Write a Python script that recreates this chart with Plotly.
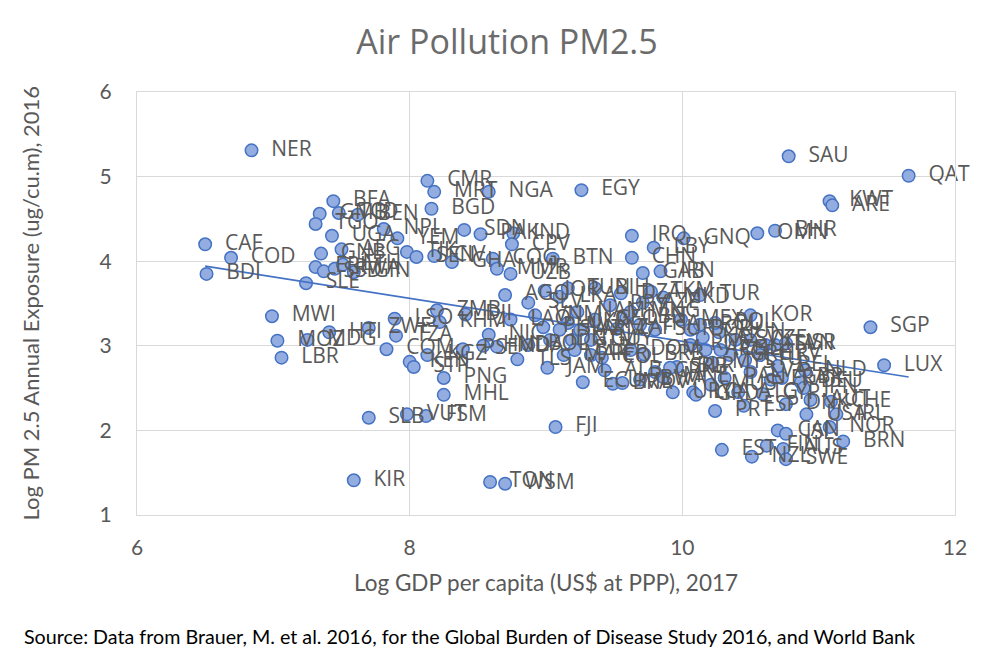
import numpy as np
import plotly.graph_objects as go

codes = ["NER","CAF","COD","BDI","SLE","MWI","MOZ","LBR","MDG","HTI","ZWE","COM","LSO","TZA","KEN","STP","KGZ","ZMB","KHM","DJI",
         "PSE","PNG","MHL","SLB","VUT","FSM","KIR","TON","WSM","FJI","BFA","GMB","TGO","TCD","BEN","UGA","NPL","YEM","TJK","SEN",
         "CIV","GHA","COG","MMR","UZB","AFG","GNB","ERI","SSD","RWA","ETH","GIN","CMR","MRT","BGD","NGA","EGY","SDN","PAK","IND",
         "CPV","BTN","IRQ","LBY","GNQ","CHN","GAB","IRN","OMN","BHR","SAU","QAT","KWT","ARE",
         "AGO","SLV","JOR","LAO","VNM","PHL","NIC","HND","MDA","TLS","BOL","JAM","MAR","UKR","GTM","IDN","SWZ","BLZ","GUY","ECU",
         "BRA","ALB","PER","COL","ARM","GEO","PRY","DZA","AZE","MKD","TKM","TUR","LKA","BIH","TUN","LBN","THA","MNG","SUR","DOM",
         "MEX","BGR","ROU","HUN","POL","SVK","CZE","ITA","SVN","ISR","HRV","LTU","GRC","CHL","ARG","RUS","BLR","SRB","MNE","CRI",
         "BWA","MDV","LCA","URY","GRD","MUS","PAN","ATG","PRT","ESP","LVA","CYP","FRA","GBR","DEU","BEL","NLD","JPN","DNK","USA",
         "IRL","CHE","AUT","NOR","CAN","ISL","FIN","AUS","EST","NZL","SWE","BRN","KOR","SGP","LUX","KAZ","MYS","ZAF","NAM","BRB"]

log_gdp = [6.84,6.50,6.69,6.51,7.24,6.99,7.03,7.06,7.25,7.41,7.70,7.83,7.89,7.90,8.00,8.03,8.13,8.20,8.22,8.41,
           8.39,8.25,8.25,7.70,7.98,8.12,7.59,8.59,8.70,9.07,7.44,7.34,7.31,7.48,7.62,7.43,7.81,7.91,7.98,8.05,
           8.18,8.31,8.61,8.64,8.74,7.50,7.35,7.31,7.37,7.45,7.51,7.59,8.13,8.18,8.16,8.58,9.26,8.40,8.52,8.76,
           8.75,9.05,9.63,9.79,10.01,9.63,9.71,9.84,10.55,10.68,10.78,11.66,11.08,11.10,
           8.70,8.87,8.99,8.74,8.92,8.98,8.58,8.54,8.64,8.79,8.87,9.01,9.13,9.16,9.19,9.03,9.10,9.21,9.33,9.27,
           9.49,9.43,9.33,9.41,9.25,9.36,9.47,9.55,9.71,9.86,9.77,10.13,9.10,9.36,9.16,9.59,9.69,9.62,9.80,9.62,
           9.99,10.06,10.13,10.27,10.24,10.39,10.50,10.61,10.68,10.76,10.57,10.46,10.35,10.28,10.17,10.06,9.96,9.91,9.86,9.80,
           9.69,9.56,10.08,9.93,10.10,10.21,10.31,10.41,10.24,10.45,10.50,10.59,10.65,10.73,10.87,10.70,10.90,10.89,10.76,10.91,
           11.13,11.09,10.94,11.08,10.70,10.76,10.62,10.74,10.29,10.51,10.76,11.18,10.50,11.38,11.48,10.15,10.22,9.52,9.23,9.72]

log_pm25 = [5.31,4.20,4.04,3.85,3.74,3.35,3.06,2.86,3.07,3.16,3.21,2.96,3.32,3.12,2.81,2.75,2.89,3.42,3.28,3.37,
            2.96,2.62,2.42,2.15,2.19,2.17,1.41,1.39,1.37,2.04,4.71,4.56,4.44,4.57,4.55,4.30,4.38,4.27,4.11,4.05,
            4.06,3.99,4.03,3.91,3.85,4.14,4.09,3.93,3.88,3.91,3.96,3.87,4.95,4.82,4.62,4.82,4.84,4.37,4.32,4.33,
            4.20,4.03,4.30,4.16,4.27,4.04,3.86,3.88,4.33,4.36,5.24,5.01,4.71,4.66,
            3.60,3.51,3.65,3.31,3.36,3.22,3.13,3.00,2.99,2.84,3.01,2.74,2.89,3.27,3.07,3.07,3.19,2.95,3.07,2.57,
            2.55,2.71,2.89,2.86,3.19,3.31,3.48,3.62,3.51,3.57,3.64,3.60,3.58,3.68,3.68,3.33,3.25,3.40,3.19,2.95,
            3.31,3.19,3.25,3.16,3.27,3.07,3.07,3.01,3.01,3.03,2.89,2.83,2.89,2.95,2.95,3.01,2.75,2.74,2.63,2.69,
            2.60,2.56,2.45,2.45,2.42,2.54,2.62,2.45,2.23,2.29,2.69,2.43,2.60,2.62,2.57,2.76,2.71,2.50,2.31,2.19,
            2.19,2.34,2.36,2.04,2.00,1.96,1.82,1.78,1.77,1.69,1.66,1.87,3.36,3.22,2.77,3.10,2.80,3.20,3.40,2.90]

x_ticks = [6, 8, 10, 12]
y_ticks = [1, 2, 3, 4, 5, 6]

title_text = "Air Pollution PM2.5"
x_title = "Log GDP per capita (US$ at PPP), 2017"
y_title = "Log PM 2.5 Annual Exposure (ug/cu.m), 2016"
source_text = "Source: Data from Brauer, M. et al. 2016, for the Global Burden of Disease Study 2016, and World Bank"

gx = np.array(log_gdp)
gy = np.array(log_pm25)
slope, intercept = np.polyfit(gx, gy, 1)
tx = np.array([gx.min(), gx.max()])
ty = slope * tx + intercept

GRAY = "#595959"
fig = go.Figure()

fig.add_trace(go.Scatter(
    x=log_gdp, y=log_pm25, mode="markers",
    marker=dict(size=12.5, color="#94ade0", line=dict(color="#4472c4", width=1.5)),
    hoverinfo="skip", showlegend=False))

fig.add_trace(go.Scatter(
    x=tx, y=ty, mode="lines", line=dict(color="#4472c4", width=1.6),
    hoverinfo="skip", showlegend=False))

fig.add_trace(go.Scatter(
    x=log_gdp, y=log_pm25, mode="markers+text", text=codes,
    textposition="middle right",
    textfont=dict(family="Open Sans", size=21, color=GRAY),
    marker=dict(size=30, color="rgba(0,0,0,0)"),
    cliponaxis=False, hoverinfo="skip", showlegend=False))

fig.update_layout(
    width=998, height=655,
    margin=dict(l=129, r=51, t=84, b=148),
    paper_bgcolor="white", plot_bgcolor="white",
    title=dict(text=title_text, x=0.5, xanchor="center", y=1 - 34 / 655, yanchor="middle",
               font=dict(family="Open Sans", size=34, color="#6b6b6b")),
    font=dict(family="Lato", color=GRAY),
)
fig.update_xaxes(range=[6, 12], tickvals=x_ticks, showgrid=True, gridcolor="#d9d9d9", gridwidth=1,
                 zeroline=False, showline=True, mirror=True, linecolor="#d9d9d9",
                 tickfont=dict(family="Lato", size=21, color=GRAY), ticks="", ticklabelstandoff=14)
fig.update_yaxes(range=[1, 6], tickvals=y_ticks, showgrid=True, gridcolor="#d9d9d9", gridwidth=1,
                 zeroline=False, showline=True, mirror=True, linecolor="#d9d9d9",
                 tickfont=dict(family="Lato", size=21, color=GRAY), ticks="", ticklabelstandoff=20)

fig.add_annotation(text=x_title, xref="paper", yref="paper", x=0.5, y=-67 / 423,
                   xanchor="center", yanchor="middle", showarrow=False,
                   font=dict(family="Lato", size=22.5, color=GRAY))
fig.add_annotation(text=y_title, xref="paper", yref="paper", x=-107 / 818, y=0.5,
                   xanchor="center", yanchor="middle", textangle=-90, showarrow=False,
                   font=dict(family="Lato", size=22, color=GRAY))
fig.add_annotation(text=source_text, xref="paper", yref="paper", x=(22 - 137) / 818, y=-(636 - 515) / 423,
                   xanchor="left", yanchor="middle", showarrow=False,
                   font=dict(family="Lato", size=19.7, color="black"))

fig.write_html("out.html")
